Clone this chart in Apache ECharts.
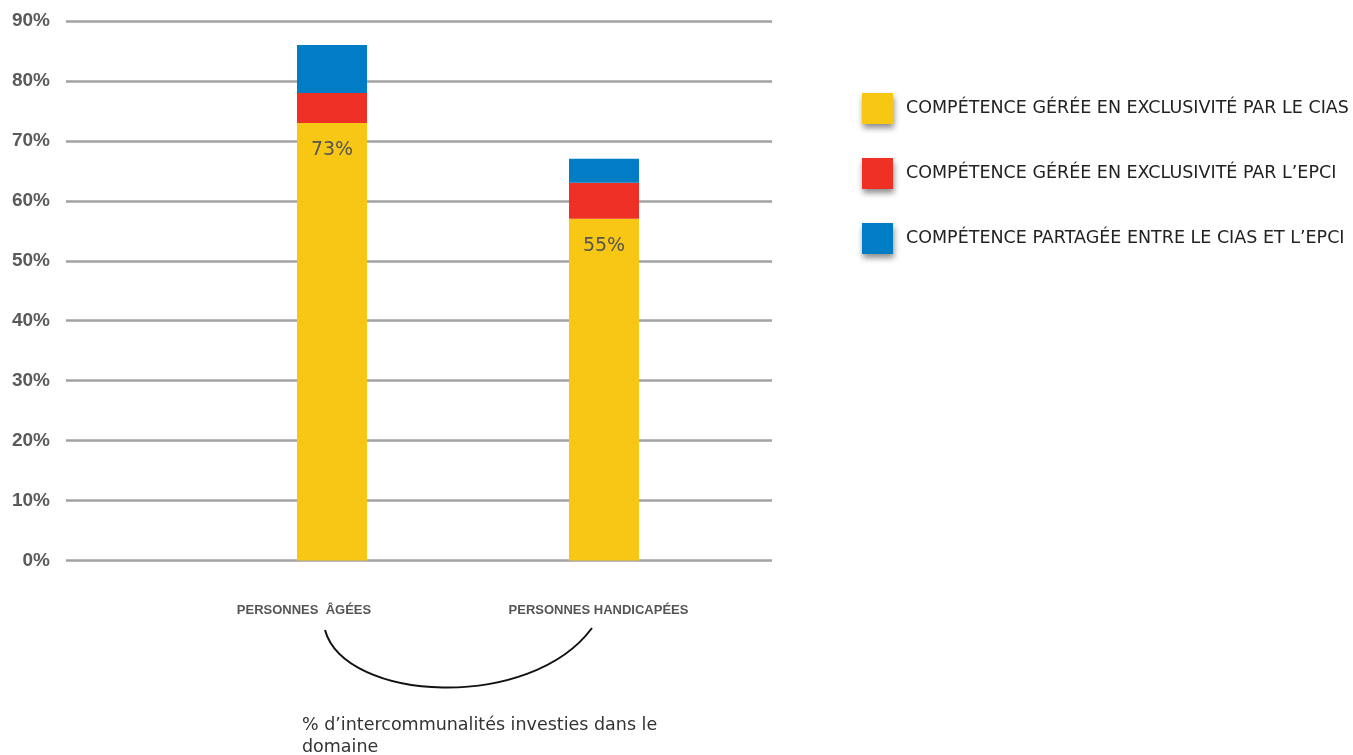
<!DOCTYPE html>
<html lang="fr">
<head>
    <meta charset="UTF-8">
    <title>Compétences</title>
    <script src="https://cdn.jsdelivr.net/npm/echarts@6/dist/echarts.min.js"></script>
    <style>
        html, body {margin: 0; padding: 0; background: #fff;}
    </style>
</head>
<body>
<div id="main" style="width:1353px;height:755px;"></div>
<script type="text/javascript">
    // categories and series values (in %)
    var categories = ['PERSONNES  ÂGÉES', 'PERSONNES HANDICAPÉES'];
    var seriesNames = [
        'COMPÉTENCE GÉRÉE EN EXCLUSIVITÉ PAR LE CIAS',
        'COMPÉTENCE GÉRÉE EN EXCLUSIVITÉ PAR L’EPCI',
        'COMPÉTENCE PARTAGÉE ENTRE LE CIAS ET L’EPCI'
    ];
    var ciasValues = [73, 57];
    var epciValues = [5, 6];
    var partageValues = [8, 4];
    var barLabels = ['73%', '55%'];
    var yTicks = [0, 10, 20, 30, 40, 50, 60, 70, 80, 90];

    var colors = ['#F7C713', '#EE3124', '#007DC5'];

    var myChart = echarts.init(document.getElementById('main'));

    var legendShadow = {
        shadowBlur: 6,
        shadowColor: 'rgba(0,0,0,0.45)',
        shadowOffsetX: 1,
        shadowOffsetY: 4
    };

    var option = {
        animation: false,
        color: colors,
        legend: {
            orient: 'vertical',
            left: 857,
            top: 88,
            itemWidth: 31,
            itemHeight: 31,
            itemGap: 34,
            icon: 'rect',
            itemStyle: legendShadow,
            textStyle: {
                fontFamily: 'DejaVu Sans',
                fontSize: 17.5,
                color: '#222',
                padding: [0, 0, 0, 8]
            },
            data: seriesNames
        },
        grid: [
            // grid holding the y axis and horizontal lines
            {left: 66, right: 1353 - 772, top: 21, bottom: 755 - 560.5},
            // grid holding the bars
            {left: 196, right: 1353 - 740, top: 21, bottom: 755 - 560.5}
        ],
        xAxis: [
            {
                gridIndex: 0, type: 'category', data: categories,
                show: false
            },
            {
                gridIndex: 1, type: 'category', data: categories,
                axisLine: {show: false},
                axisTick: {show: false},
                axisLabel: {
                    margin: 43,
                    fontFamily: 'Liberation Sans',
                    fontSize: 13,
                    fontWeight: 'bold',
                    color: '#555',
                    formatter: function (v, i) {
                        return '{l' + i + '|' + v + '}';
                    },
                    rich: {
                        l0: {padding: [0, 56, 0, 0]},
                        l1: {padding: [0, 11, 0, 0]}
                    }
                }
            }
        ],
        yAxis: [
            {
                gridIndex: 0, type: 'value',
                min: yTicks[0], max: yTicks[yTicks.length - 1], interval: 10,
                axisLine: {show: false},
                axisTick: {show: false},
                splitLine: {show: true, lineStyle: {color: '#a2a2a4', width: 2.5}},
                axisLabel: {
                    margin: 16,
                    fontFamily: 'Liberation Sans',
                    fontSize: 19,
                    fontWeight: 'bold',
                    color: '#5a5a5a',
                    formatter: '{value}%'
                }
            },
            {
                gridIndex: 1, type: 'value',
                min: yTicks[0], max: yTicks[yTicks.length - 1], interval: 10,
                show: false,
                splitLine: {show: false}
            }
        ],
        series: [
            {
                name: seriesNames[0], type: 'bar', stack: 'total',
                xAxisIndex: 1, yAxisIndex: 1,
                barWidth: 70,
                data: ciasValues,
                label: {
                    show: true,
                    position: 'insideTop',
                    distance: 18,
                    fontFamily: 'DejaVu Sans',
                    fontSize: 19,
                    color: '#555',
                    formatter: function (p) {
                        return barLabels[p.dataIndex];
                    }
                }
            },
            {
                name: seriesNames[1], type: 'bar', stack: 'total',
                xAxisIndex: 1, yAxisIndex: 1,
                barWidth: 70,
                data: epciValues
            },
            {
                name: seriesNames[2], type: 'bar', stack: 'total',
                xAxisIndex: 1, yAxisIndex: 1,
                barWidth: 70,
                data: partageValues
            }
        ],
        graphic: [
            {
                type: 'bezierCurve',
                shape: {
                    x1: 325, y1: 630,
                    cpx1: 345, cpy1: 702,
                    cpx2: 530, cpy2: 712,
                    x2: 592, y2: 628
                },
                style: {stroke: '#111', lineWidth: 2, fill: null}
            },
            {
                type: 'text',
                left: 302,
                top: 714,
                style: {
                    text: '% d’intercommunalités investies dans le\ndomaine',
                    fontFamily: 'DejaVu Sans',
                    fontSize: 17.5,
                    lineHeight: 22,
                    fill: '#333'
                }
            }
        ]
    };
    myChart.setOption(option);
</script>
</body>
</html>
